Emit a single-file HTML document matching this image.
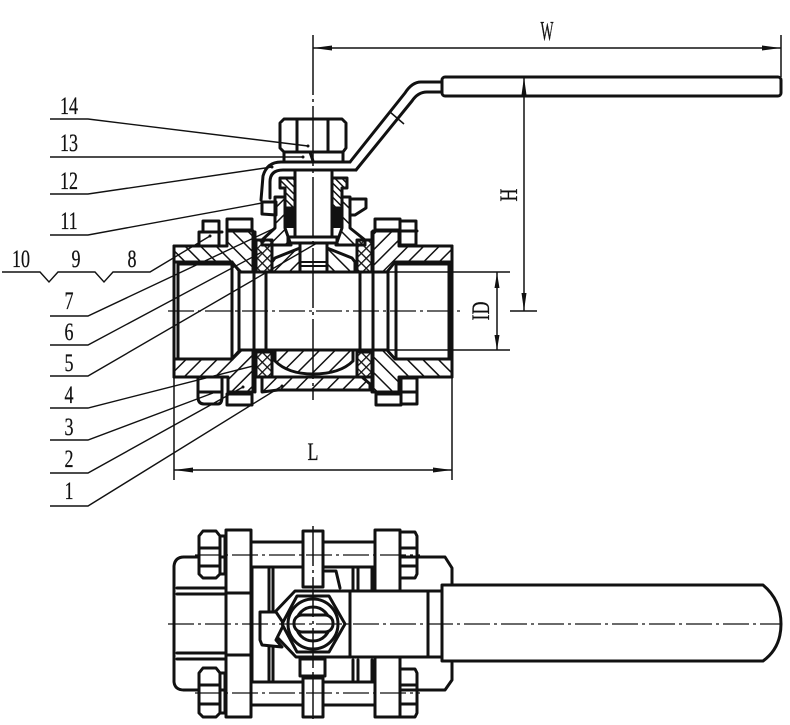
<!DOCTYPE html>
<html><head><meta charset="utf-8"><style>
html,body{margin:0;padding:0;background:#fff}
svg{display:block}
.k{fill:none;stroke:#111;stroke-width:3;stroke-linejoin:round;stroke-linecap:round}
.t{fill:none;stroke:#111;stroke-width:1.5}
.c{fill:none;stroke:#111;stroke-width:1.3;stroke-dasharray:26 4 3 4}
.l{fill:none;stroke:#111;stroke-width:1.4}
text{font-family:"Liberation Serif",serif;font-size:25px;fill:#111;text-anchor:middle;stroke:#111;stroke-width:.25}
</style></head><body>
<svg width="790" height="725" viewBox="0 0 790 725" xmlns="http://www.w3.org/2000/svg">
<defs>
<pattern id="a" width="11" height="11" patternUnits="userSpaceOnUse" patternTransform="rotate(45)"><rect width="1.5" height="11" fill="#111"/></pattern>
<pattern id="b" width="11" height="11" patternUnits="userSpaceOnUse" patternTransform="rotate(-45)"><rect width="1.5" height="11" fill="#111"/></pattern>
<pattern id="f" width="5" height="5" patternUnits="userSpaceOnUse" patternTransform="rotate(-45)"><rect width="1.5" height="5" fill="#111"/></pattern>
<pattern id="x" width="7" height="7" patternUnits="userSpaceOnUse" patternTransform="rotate(45)"><rect width="1.3" height="7" fill="#111"/><rect width="7" height="1.3" fill="#111"/></pattern>
</defs>
<rect width="790" height="725" fill="#fff"/>

<!-- hatched areas: main section -->
<g class="k">
<path fill="url(#b)" d="M174 246H227V231H253V272H240L232 262H174Z"/>
<path fill="url(#a)" d="M452 246H399V231H373V272H387L395 262H452Z"/>
<path fill="url(#a)" d="M174 377H228V392H253V350H240L232 359H174Z"/>
<path fill="url(#b)" d="M452 377H399V392H373V350H387L395 359H452Z"/>
<path fill="url(#x)" d="M256 240H272V272H256Z"/>
<path fill="url(#x)" d="M357 240H372V272H357Z"/>
<path fill="url(#x)" d="M256 352H272V377H256Z"/>
<path fill="url(#x)" d="M357 352H372V377H357Z"/>
<path fill="url(#a)" d="M262 377H362L370 384V390H278L262 392Z"/>
<path fill="url(#a)" d="M275 350H353V361Q340 374 313 374Q288 374 275 361Z"/>
<path fill="url(#a)" d="M272 272H300V248L275 258L272 262Z"/>
<path fill="url(#b)" d="M355 272H327V248L352 258L355 262Z"/>
<path fill="url(#a)" d="M262 240L275 228V197H285V228L291 245H262Z"/>
<path fill="url(#b)" d="M365 240L350 228V197H342V228L336 245H365Z"/>
<path fill="url(#f)" d="M280 178H295V208H285V188H280Z"/>
<path fill="url(#f)" d="M332 178H347V188H342V208H332Z"/>
</g>
<rect x="285" y="209" width="10" height="19" fill="#111"/>
<rect x="332" y="209" width="10" height="19" fill="#111"/>

<g class="k">
<!-- nut / washer -->
<path d="M284 119H342L346 123V148L343 152H284L280 148V123Z"/>
<path d="M297 120V151M328 120V151"/>
<path d="M284 152V161M343 152V161M300 152L310 152L313 161"/>
<!-- handle in section -->
<path d="M350 162H281Q267 162 263 176L261 200"/>
<path d="M356 170H283Q270 170 270 182V198"/>
<path d="M350 162L405 93Q412 82 421 82H441"/>
<path d="M356 170L412 101Q418 92 427 92H441"/>
<rect x="442" y="77" width="339" height="19" rx="3"/>
<!-- stem -->
<path d="M295 172V237M332 172V237M288 237H337V243H288Z"/>
<path d="M300 243V272M327 243V272"/>
<path d="M301 262H326M301 266H326" stroke-width="2"/>
<!-- stop tabs -->
<path d="M262 202H276V215L262 214Z"/>
<path d="M350 199H366V208L355 215H350Z"/>
<!-- upper studs/nuts -->
<rect x="227" y="219" width="25" height="11"/>
<rect x="375" y="219" width="25" height="11"/>
<path d="M199 246V232H203V221H219V246M199 232H222"/>
<path d="M400 221H416V245H400ZM400 231H417"/>
<!-- lower nuts -->
<rect x="227" y="394" width="25" height="11"/>
<rect x="376" y="394" width="25" height="11"/>
<path d="M198 378V397Q198 404 204 404H218Q222 404 222 397V378"/>
<path d="M199 392H221"/>
<path d="M401 378H417V404H401ZM401 392H417"/>
<!-- bores -->
<path d="M174 246V377M452 246V377"/>
<path d="M178 264V359H232V264H178"/>
<path d="M396 264V359H449V264H396"/>
<path d="M239 272V350M388 272V350"/>
<path d="M254 272V350M373 272V350"/>
<path d="M266 272V350M360 272V350"/>
<path d="M240 272H387M240 350H387"/>
<path d="M174 262H232M396 262H452"/>
<path d="M174 359H232M396 359H452"/>
<path d="M255 232V272M372 232V272M255 350V392M372 350V392"/>
</g>

<!-- centre lines -->
<path class="c" d="M168 311H460"/>
<path class="t" d="M313 35V400" stroke-dasharray="60 4 3 4"/>

<!-- dimensions -->
<g class="t">
<path d="M313 48H781M781 35V77"/>
<path d="M524 77V311M510 311H537"/>
<path d="M373 272H510M388 350H510M497 272V350"/>
<path d="M174 377V480M452 377V480M174 470H452"/>
<path d="M390 112L404 124"/>
</g>
<g fill="#111">
<path d="M313 48L332 45.5V50.5Z"/><path d="M781 48L762 45.5V50.5Z"/>
<path d="M524 77L521.5 95H526.5Z"/><path d="M524 311L521.5 293H526.5Z"/>
<path d="M497 273L494.5 288H499.5Z"/><path d="M497 350L494.5 335H499.5Z"/>
<path d="M174 470L193 467.5V472.5Z"/><path d="M452 470L433 467.5V472.5Z"/>
</g>

<!-- leaders -->
<g class="l">
<path d="M50 119H88L308 146"/>
<path d="M50 157H303"/>
<path d="M50 194H88L272 167"/>
<path d="M50 235H88L262 203"/>
<path d="M2 272H40L49 282L58 272H95L104 282L113 272H150L210 236"/>
<path d="M50 316H88L275 228"/>
<path d="M50 345H88L262 252"/>
<path d="M50 376H88L317 243"/>
<path d="M50 408H88L257 365"/>
<path d="M50 440H88L213 393"/>
<path d="M50 473H88L243 387"/>
<path d="M50 506H88L282 386"/>
</g>
<g fill="#111"><circle cx="308" cy="146" r="1.5"/><circle cx="303" cy="157" r="1.5"/><circle cx="272" cy="167" r="1.5"/><circle cx="210" cy="236" r="1.5"/><circle cx="317" cy="243" r="1.5"/><circle cx="243" cy="387" r="1.5"/><circle cx="282" cy="386" r="1.5"/></g>

<!-- labels -->
<text transform="translate(69,114) scale(.72,1)">14</text>
<text transform="translate(69,151) scale(.72,1)">13</text>
<text transform="translate(69,189) scale(.72,1)">12</text>
<text transform="translate(69,229) scale(.72,1)">11</text>
<text transform="translate(21,267) scale(.72,1)">10</text>
<text transform="translate(76,267) scale(.72,1)">9</text>
<text transform="translate(132,267) scale(.72,1)">8</text>
<text transform="translate(69,309) scale(.72,1)">7</text>
<text transform="translate(69,340) scale(.72,1)">6</text>
<text transform="translate(69,371) scale(.72,1)">5</text>
<text transform="translate(69,403) scale(.72,1)">4</text>
<text transform="translate(69,435) scale(.72,1)">3</text>
<text transform="translate(69,467) scale(.72,1)">2</text>
<text transform="translate(69,499) scale(.72,1)">1</text>
<text transform="translate(547,40) scale(.55,1.1)">W</text>
<text transform="translate(313,460) scale(.72,1)">L</text>
<text transform="translate(517,195) rotate(-90) scale(.72,1)">H</text>
<text transform="translate(489,311) rotate(-90) scale(.72,1)">ID</text>

<!-- bottom view -->
<g class="k">
<path d="M184 557H199M220 557H226M400 557H445L452 568V585M184 690H199M220 690H226M400 690H445L452 680V663"/>
<path d="M184 557Q175 557 174 566V682Q175 690 184 690"/>
<path d="M177 588H226M177 594H226M177 653H226M177 659H226"/>
<path d="M252 542H303M323 542H375M252 567H303M323 567H375"/>
<path d="M252 682H303M323 682H375M252 705H303M323 705H375"/>
<rect x="226" y="530" width="25" height="187"/>
<rect x="375" y="530" width="25" height="187"/>
<path d="M226 593H251M226 655H251"/>
<path d="M375 587V591M375 659V680"/>
<rect x="303" y="531" width="20" height="56"/>
<rect x="303" y="678" width="20" height="39"/>
<path d="M199 536L203 531H216L220 536V574L216 578H203L199 574Z"/>
<path d="M199 548H220M199 566H220M220 536H225V574H220"/>
<path d="M199 673L203 668H216L220 673V713L216 717H203L199 713Z"/>
<path d="M199 685H220M199 704H220M220 673H225V713H220"/>
<path d="M400 532H415L417 536V574L415 578H400M400 548H417M400 566H417"/>
<path d="M400 669H415L417 673V713L415 717H400M400 685H417M400 704H417"/>
<path d="M252 567V682"/>
<path d="M269 569V680M273 569V680"/>
<path d="M353 569V590M358 569V590M372 569V590M353 660V680M358 660V680M372 660V680"/>
<path d="M325 571H336L340 588"/>
<path d="M300 659H325V676H300Z"/>
<path fill="#fff" d="M275 612L295 591H442V657H296L276 636"/>
<path d="M350 591V657M428 591V657"/>
<path fill="#fff" d="M442 585H763Q781 600 781 624Q781 648 763 661H442Z"/>
<path fill="#fff" d="M260 612H276L284 624L276 640L282 647L262 645L260 640Z"/>
<path fill="#fff" d="M282 624L297 596H329L345 624L329 652H297Z"/>
<circle cx="313" cy="624" r="25" fill="#fff"/>
<circle cx="313" cy="624" r="17"/>
<rect x="294" y="615" width="39" height="17" rx="8" fill="#fff"/>
</g>
<path class="c" d="M168 624H781"/>
<path class="t" d="M313 526V720" stroke-dasharray="40 4 3 4"/>
<path class="c" d="M195 555H420M195 693H420"/>
</svg>
</body></html>
